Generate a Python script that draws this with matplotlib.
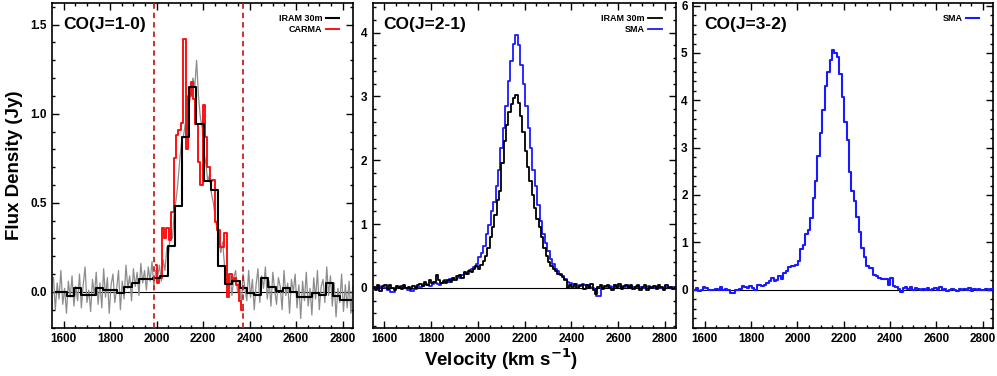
import numpy as np
import matplotlib
matplotlib.use("Agg")
import matplotlib.pyplot as plt
from matplotlib.ticker import MultipleLocator, FormatStrFormatter

# ---------------- data ----------------
# Panel 1: CO(1-0)
iram10_hi_start, iram10_hi_step = 1556, 8
iram10_hi = [0.08, -0.10, 0.05, -0.04, 0.12, -0.07, 0.02, -0.12, 0.06, -0.03,
             0.09, -0.08, 0.03, -0.05, 0.10, -0.09, 0.04, 0.14, -0.06, 0.01,
             -0.11, 0.07, -0.02, 0.11, -0.07, 0.05, -0.09, 0.13, -0.03, 0.08,
             -0.12, 0.04, 0.10, -0.06, 0.02, 0.12, -0.10, 0.06, -0.04, 0.15,
             0.02, 0.09, -0.05, 0.13, 0.03, 0.11, -0.02, 0.16, 0.05, 0.12,
             0.01, 0.14, 0.06, 0.17, 0.03, 0.12, 0.08, 0.15, 0.06, 0.18,
             0.12, 0.25, 0.22, 0.35, 0.30, 0.45, 0.52, 0.62, 0.75, 0.85,
             0.88, 0.95, 0.90, 1.05, 1.12, 1.20, 1.15, 1.30, 1.10, 0.98,
             0.92, 0.78, 0.72, 0.62, 0.66, 0.55, 0.50, 0.42, 0.35, 0.30,
             0.22, 0.28, 0.15, 0.12, 0.05, 0.10, -0.02, 0.08, 0.12, 0.00,
             0.06, -0.08, 0.10, 0.02, -0.05, 0.12, -0.03, 0.07, -0.10, 0.04,
             0.13, -0.06, 0.09, 0.02, 0.14, -0.04, 0.06, -0.08, 0.11, 0.01,
             -0.07, 0.08, 0.03, -0.10, 0.12, -0.02, 0.05, -0.12, 0.07, 0.00,
             0.10, -0.09, 0.04, -0.15, 0.06, -0.05, 0.11, -0.08, 0.02, -0.13,
             0.08, -0.04, 0.12, -0.10, 0.03, 0.07, -0.06, 0.14, -0.02, 0.09,
             -0.08, 0.05, -0.14, 0.02, -0.06, 0.10, -0.11, 0.04, -0.09, 0.06,
             -0.12, 0.03, -0.05]

iram10_bin_edge0, iram10_bin_width = 1551, 31
iram10_binned = [0.0, 0.0, -0.025, 0.02, -0.015, -0.015, 0.02, 0.008, 0.008, -0.008,
                 0.03, 0.05, 0.075, 0.075, 0.08, 0.09, 0.26, 0.48, 0.87, 1.15,
                 0.94, 0.62, 0.57, 0.145, 0.045, 0.06, 0.02, -0.005, -0.015, 0.08,
                 0.03, 0.005, 0.02, 0.0, -0.03, -0.03, -0.005, -0.02, 0.05, -0.025,
                 -0.045, -0.045]

carma_edge0, carma_width = 1990, 10.4
carma10 = [0.15, 0.05, 0.08, 0.36, 0.30, 0.36, 0.29, 0.45, 0.75, 0.88,
           0.91, 0.95, 1.42, 0.80, 1.10, 1.18, 1.08, 0.94, 0.73, 0.60,
           1.05, 0.87, 0.70, 0.62, 0.63, 0.39, 0.35, 0.25, 0.25, 0.33,
           -0.03, 0.10, 0.06, 0.08, 0.04, -0.05, -0.10]

window_lines = [1990, 2373]

# Panel 2: CO(2-1)
iram21_start, iram21_step = 1555, 10
iram21 = [0.02, -0.03, 0.04, -0.05, 0.03, 0.05, -0.02, 0.04, 0.00, -0.03,
          0.03, 0.01, -0.02, 0.05, 0.00, 0.02, -0.01, 0.03, 0.00, 0.05,
          0.06, 0.03, 0.10, 0.05, 0.12, 0.07, 0.09, 0.20, 0.12, 0.08,
          0.11, 0.08, 0.13, 0.10, 0.15, 0.12, 0.18, 0.20, 0.16, 0.25,
          0.22, 0.27, 0.25, 0.30, 0.34, 0.30, 0.36, 0.42, 0.50, 0.62,
          0.80, 0.95, 1.15, 1.38, 1.52, 1.95, 2.30, 2.55, 2.75, 2.88,
          2.97, 3.02, 2.90, 2.70, 2.45, 2.15, 1.90, 1.68, 1.45, 1.25,
          1.08, 0.95, 0.80, 0.62, 0.50, 0.40, 0.35, 0.30, 0.26, 0.22,
          0.20, 0.17, 0.12, 0.00, 0.04, 0.02, 0.06, 0.00, 0.03, 0.05,
          -0.02, 0.04, 0.00, 0.06, -0.03, -0.10, 0.01, 0.04, -0.02, 0.03,
          0.05, 0.00, -0.03, 0.04, 0.02, 0.06, -0.01, 0.03, 0.05, 0.00,
          0.04, -0.02, 0.02, 0.05, -0.03, 0.01, 0.04, -0.04, 0.02, 0.00,
          0.03, -0.02, 0.05, 0.01, -0.03, 0.04, 0.00, 0.02, -0.02, 0.01]

sma_start, sma_step = 1556, 10.5
sma21 = [0.02, 0.00, 0.03, 0.00, 0.02, 0.00, -0.03, -0.06, -0.06, 0.00,
         0.01, 0.03, 0.02, 0.00, -0.03, -0.05, -0.05, -0.01, 0.01, 0.02,
         0.03, 0.06, 0.05, 0.03, 0.06, 0.08, 0.06, 0.05, 0.07, 0.12,
         0.10, 0.14, 0.12, 0.15, 0.18, 0.15, 0.20, 0.24, 0.22, 0.28,
         0.30, 0.33, 0.38, 0.48, 0.55, 0.66, 0.85, 0.98, 1.20, 1.35,
         1.60, 1.85, 2.20, 2.50, 2.85, 3.25, 3.55, 3.82, 3.96, 3.80,
         3.50, 3.20, 2.85, 2.50, 2.20, 1.85, 1.60, 1.30, 1.05, 0.85,
         0.70, 0.58, 0.45, 0.38, 0.30, 0.27, 0.22, 0.18, 0.14, 0.10,
         0.07, 0.05, 0.06, 0.03, 0.04, 0.06, 0.04, 0.05, 0.02, 0.00,
         -0.03, -0.12, -0.12, 0.00, 0.02, 0.01, 0.03, 0.02, 0.04, 0.01,
         0.03, 0.00, 0.02, 0.03, 0.01, 0.00, 0.02, 0.03, 0.01, 0.02,
         0.00, 0.01, 0.03, 0.02, 0.00, 0.01, 0.02, 0.00, -0.01, 0.01,
         0.02, 0.00, 0.01, 0.02]

# Panel 3: CO(3-2)
sma32 = [0.00, 0.04, -0.02, 0.00, 0.05, 0.03, 0.00, 0.00, 0.00, 0.01,
         0.00, 0.06, 0.00, 0.01, 0.00, -0.07, -0.07, 0.00, 0.00, 0.02,
         0.07, 0.05, 0.04, 0.08, 0.03, 0.00, 0.10, 0.10, 0.08, 0.10,
         0.14, 0.19, 0.24, 0.18, 0.20, 0.29, 0.22, 0.35, 0.40, 0.48,
         0.50, 0.50, 0.52, 0.60, 0.85, 0.95, 1.18, 1.27, 1.52, 1.93,
         2.29, 2.82, 3.31, 3.80, 4.30, 4.60, 4.85, 5.07, 5.00, 4.92,
         4.55, 4.06, 3.54, 3.17, 2.48, 2.08, 1.88, 1.54, 1.22, 0.87,
         0.69, 0.50, 0.46, 0.45, 0.30, 0.28, 0.25, 0.23, 0.22, 0.22,
         0.09, 0.24, 0.08, 0.05, 0.02, -0.04, 0.03, 0.05, 0.01, 0.05,
         0.00, 0.04, 0.02, 0.00, 0.01, 0.00, 0.03, 0.00, 0.02, 0.04,
         0.00, 0.05, 0.00, 0.02, -0.03, 0.00, 0.02, 0.00, -0.03, 0.01,
         0.00, 0.02, 0.00, 0.03, -0.02, 0.01, 0.00, 0.02, 0.00, -0.01,
         0.01, 0.00, 0.02, 0.00]

titles = ["CO(J=1-0)", "CO(J=2-1)", "CO(J=3-2)"]
ylims = [(-0.2, 1.62), (-0.62, 4.46), (-0.8, 6.05)]
ymajor = [0.5, 1, 1]
yminor = [0.1, 0.2, 0.2]
yfmt = ["%.1f", "%d", "%d"]
xlim = (1551, 2845)

# ---------------- plotting ----------------
plt.rcParams['font.family'] = ['Liberation Sans', 'DejaVu Sans']
plt.rcParams['font.weight'] = 'bold'

fig = plt.figure(figsize=(9.97, 3.76), dpi=100)
W, H = 997, 376
boxes = [(52.3, 353.0), (372.7, 675.7), (693.3, 993.3)]
top_px, bot_px = 3.3, 327.5
axes = []
for (l, r) in boxes:
    ax = fig.add_axes([l / W, (H - bot_px) / H, (r - l) / W, (bot_px - top_px) / H])
    axes.append(ax)

def centers(start, step, n):
    return start + step * np.arange(n)

tick_font = {'family': ['Liberation Sans Narrow', 'Liberation Sans'], 'weight': 'bold', 'size': 8.5}

for k, ax in enumerate(axes):
    ax.set_xlim(*xlim)
    ax.set_ylim(*ylims[k])
    ax.axhline(0, color='black', lw=0.8, zorder=1)
    ax.xaxis.set_major_locator(MultipleLocator(200))
    ax.xaxis.set_minor_locator(MultipleLocator(50))
    ax.yaxis.set_major_locator(MultipleLocator(ymajor[k]))
    ax.yaxis.set_minor_locator(MultipleLocator(yminor[k]))
    ax.yaxis.set_major_formatter(FormatStrFormatter(yfmt[k]))
    ax.tick_params(which='both', direction='in', top=True, right=True, width=1.0)
    ax.tick_params(which='major', length=5, pad=4)
    ax.tick_params(which='minor', length=2.5)
    for lab in ax.get_xticklabels() + ax.get_yticklabels():
        lab.set_fontproperties(tick_font)
    for s in ax.spines.values():
        s.set_linewidth(1.2)
    ax.text(0.036, 0.92, titles[k], transform=ax.transAxes, fontsize=12.5,
            fontweight='bold', ha='left', va='baseline')

# Panel 1
ax = axes[0]
v = centers(iram10_hi_start, iram10_hi_step, len(iram10_hi))
ax.plot(v, iram10_hi, color='#8c8c8c', lw=0.9, zorder=2)
vb = centers(iram10_bin_edge0 + iram10_bin_width / 2, iram10_bin_width, len(iram10_binned))
l1, = ax.plot(vb, iram10_binned, drawstyle='steps-mid', color='black', lw=1.5, zorder=4, label='IRAM 30m')
vc = centers(carma_edge0 + carma_width / 2, carma_width, len(carma10))
l2, = ax.plot(vc, carma10, drawstyle='steps-mid', color='#ff1010', lw=1.4, zorder=3, label='CARMA')
for xv in window_lines:
    ax.axvline(xv, color='#cc2020', lw=1.3, ls=(0, (3, 2.2)), zorder=5)

# Panel 2
ax = axes[1]
v = centers(iram21_start, iram21_step, len(iram21))
m1, = ax.plot(v, iram21, drawstyle='steps-mid', color='black', lw=1.3, zorder=4, label='IRAM 30m')
v = centers(sma_start, sma_step, len(sma21))
m2, = ax.plot(v, sma21, drawstyle='steps-mid', color='#1a1aff', lw=1.3, zorder=3, label='SMA')

# Panel 3
ax = axes[2]
v = centers(sma_start, sma_step, len(sma32))
n1, = ax.plot(v, sma32, drawstyle='steps-mid', color='#1a1aff', lw=1.5, zorder=3, label='SMA')

leg_font = {'family': ['Liberation Sans', 'DejaVu Sans'], 'weight': 'bold', 'size': 6.5}
for ax in axes:
    lg = ax.legend(loc='upper right', bbox_to_anchor=(0.975, 0.985), frameon=False,
                   markerfirst=False, handlelength=1.5, handletextpad=0.4,
                   labelspacing=0.15, prop=leg_font, borderaxespad=0.3)
    for t in lg.get_texts():
        t.set_ha('right')

fig.text(0.015, (H - (top_px + bot_px) / 2) / H, 'Flux Density (Jy)', rotation=90,
         fontsize=13.5, fontweight='bold', ha='center', va='center')
fig.text(0.503, (H - 359) / H, r'Velocity (km s$^{\mathbf{-1}}$)', fontsize=13.5,
         fontweight='bold', ha='center', va='center')

fig.savefig('out.png', dpi=100)
